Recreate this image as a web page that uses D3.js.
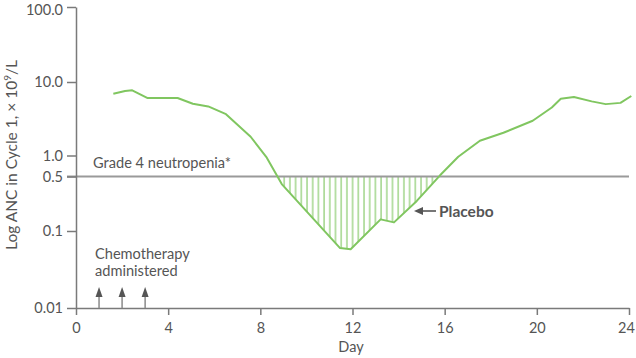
<!DOCTYPE html>
<html><head><meta charset="utf-8">
<script src="https://cdn.jsdelivr.net/npm/d3@7"></script>
<style>body{margin:0;background:#fff}svg{display:block}text{font-family:Lato,"Open Sans",sans-serif;fill:#555}</style>
</head><body>
<svg id="c" width="636" height="358"></svg>
<script>
const days = [1.62,2.13,2.44,3.11,4.41,5.07,5.74,6.51,7.58,8.28,8.93,11.46,11.92,13.22,13.80,14.79,15.80,16.59,17.53,18.55,19.82,20.65,21.04,21.61,22.38,22.99,23.63,24.1];
const anc  = [6.9,7.55,7.7,6.05,6.05,5.05,4.65,3.65,1.8,0.93,0.40,0.060,0.058,0.141,0.129,0.243,0.52,0.96,1.59,2.04,2.97,4.5,5.9,6.25,5.45,5.0,5.2,6.45];
const xTicks = [0,4,8,12,16,20,24];
const yTicks = [0.01,0.1,0.5,1,10,100];
const yTickLabels = ["0.01","0.1","0.5","1.0","10.0","100.0"];
const chemoDays = [1,2,3];
const threshold = 0.5;

const svg = d3.select("#c");
const x = d3.scaleLinear().domain([0,24]).range([76,629]);
const y = d3.scaleLog().domain([0.01,0.1,0.5,1,10,100]).range([308,231,176.5,155.5,82,7]);
const green = "#80c660";

// hatched area
const defs = svg.append("defs");
const pat = defs.append("pattern").attr("id","hatch").attr("patternUnits","userSpaceOnUse")
  .attr("width",5.7).attr("height",10).attr("x",x(0)+2);
pat.append("line").attr("x1",1).attr("x2",1).attr("y1",0).attr("y2",10).attr("stroke",green).attr("stroke-width",1.1);
defs.append("clipPath").attr("id","below").append("rect")
  .attr("x",x(0)).attr("y",y(threshold)).attr("width",x(24)-x(0)).attr("height",y(0.01)-y(threshold));
const pts = days.map((d,i)=>[d,anc[i]]);
svg.append("path").datum(pts).attr("clip-path","url(#below)")
  .attr("fill","url(#hatch)")
  .attr("d", d3.area().x(d=>x(d[0])).y0(y(threshold)).y1(d=>y(d[1])));

// threshold line
svg.append("line").attr("x1",67).attr("x2",x(24)).attr("y1",y(threshold)).attr("y2",y(threshold))
  .attr("stroke","#9a9a9a").attr("stroke-width",2);

// axes
const ax = svg.append("g").attr("transform","translate(0,"+y(0.01)+")")
  .call(d3.axisBottom(x).tickValues(xTicks).tickFormat(d3.format("d")).tickSize(7).tickSizeOuter(0));
const ay = svg.append("g").attr("transform","translate("+x(0)+",0)")
  .call(d3.axisLeft(y).tickValues(yTicks).tickFormat((d,i)=>yTickLabels[i]).tickSize(9).tickSizeOuter(0));
[ax,ay].forEach(g=>{
  g.selectAll("path,line").attr("stroke","#7a7a7a").attr("stroke-width",1.5);
  g.selectAll("text").attr("font-size",14.5).attr("fill","#555").style("font-family","Lato");
});
ax.selectAll("text").attr("dy","1.05em").attr("dx",d=>d===24?-3:0);
ay.selectAll("text").attr("x",-13).attr("dy",d=>d===100?"0.5em":"0.32em");

// curve
svg.append("path").datum(pts).attr("fill","none").attr("stroke",green).attr("stroke-width",2)
  .attr("stroke-linejoin","round")
  .attr("d", d3.line().x(d=>x(d[0])).y(d=>y(d[1])));

// labels
svg.append("text").attr("x",93).attr("y",168).attr("font-size",14.6).text("Grade 4 neutropenia*");
const ch = svg.append("text").attr("x",95).attr("font-size",14.6);
ch.append("tspan").attr("x",95).attr("y",259).text("Chemotherapy");
ch.append("tspan").attr("x",95).attr("y",275.5).text("administered");

chemoDays.forEach(d=>{
  svg.append("line").attr("x1",x(d)).attr("x2",x(d)).attr("y1",y(0.01)).attr("y2",296)
    .attr("stroke","#8a8a8a").attr("stroke-width",1.5);
  svg.append("path").attr("d",`M${x(d)},287 L${x(d)-3.5},297 L${x(d)+3.5},297Z`).attr("fill","#555");
});

// placebo
svg.append("line").attr("x1",421).attr("x2",436).attr("y1",211).attr("y2",211).attr("stroke","#555").attr("stroke-width",1.6);
svg.append("path").attr("d","M414,211 L423,207 L423,215Z").attr("fill","#555");
svg.append("text").attr("x",439).attr("y",216.5).attr("font-size",15.5).attr("font-weight","bold").text("Placebo");

svg.append("text").attr("x",351).attr("y",352).attr("text-anchor","middle").attr("font-size",14.5).text("Day");
const yl = svg.append("text").attr("transform","translate(17,155) rotate(-90)").attr("text-anchor","middle").attr("font-size",15.5);
yl.append("tspan").text("Log ANC in Cycle 1, × 10");
yl.append("tspan").attr("font-size",10).attr("dy",-6).text("9");
yl.append("tspan").attr("dy",6).text("/L");
</script>
</body></html>
